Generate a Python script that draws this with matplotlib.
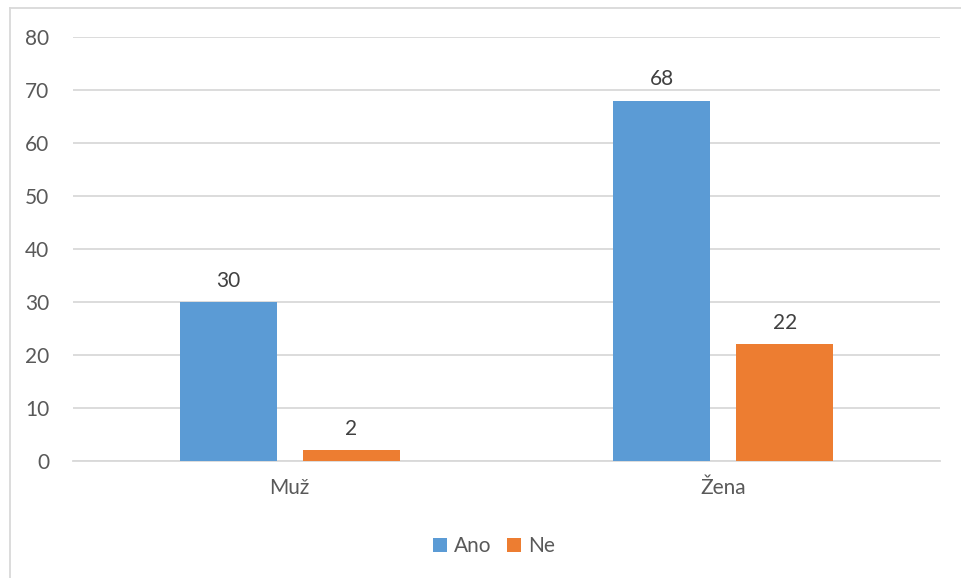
import matplotlib.pyplot as plt
import numpy as np

categories = ['Muž', 'Žena']
ano = [30, 68]
ne = [2, 22]
series_names = ['Ano', 'Ne']
yticks = [0, 10, 20, 30, 40, 50, 60, 70, 80]

plt.rcParams['font.family'] = ['Lato', 'DejaVu Sans']
TXT = '#595959'
FS = 15

fig = plt.figure(figsize=(9.61, 5.78), dpi=100)
ax = fig.add_axes([0.076, 0.2024, 0.902, 0.7336])

x = np.arange(len(categories))
w = 0.224
off = 0.142
b1 = ax.bar(x - off, ano, w, color='#5b9bd5', label=series_names[0], zorder=3)
b2 = ax.bar(x + off, ne, w, color='#ed7d31', label=series_names[1], zorder=3)

for bars in (b1, b2):
    for r in bars:
        ax.annotate(f'{r.get_height():g}', (r.get_x() + r.get_width() / 2, r.get_height()),
                    xytext=(0, 8), textcoords='offset points', ha='center', va='bottom',
                    fontsize=FS, color='#404040')

ax.set_xlim(-0.5, 1.5)
ax.set_ylim(0, 80)
ax.set_yticks(yticks)
ax.set_xticks(x)
ax.set_xticklabels(categories)
ax.tick_params(length=0, labelsize=FS, colors=TXT)
ax.tick_params(axis='x', pad=12)
ax.tick_params(axis='y', pad=17)
ax.grid(axis='y', color='#d9d9d9', linewidth=1.3, zorder=0)
for s in ['top', 'right', 'left']:
    ax.spines[s].set_visible(False)
ax.spines['bottom'].set_color('#d9d9d9')
ax.spines['bottom'].set_linewidth(1.3)

leg = fig.legend(loc='center', bbox_to_anchor=(0.514, 0.055), ncol=2, frameon=False,
                 fontsize=FS, handlelength=0.65, handleheight=0.65, handletextpad=0.35,
                 columnspacing=0.75)
for t in leg.get_texts():
    t.set_color(TXT)

# chart area border (left and top visible)
fig.add_artist(plt.Line2D([9.5 / 961, 9.5 / 961], [0, 1 - 8 / 578], color='#d9d9d9', linewidth=1.3))
fig.add_artist(plt.Line2D([9.5 / 961, 1], [1 - 8 / 578, 1 - 8 / 578], color='#d9d9d9', linewidth=1.3))

fig.savefig('out.png', dpi=100)
